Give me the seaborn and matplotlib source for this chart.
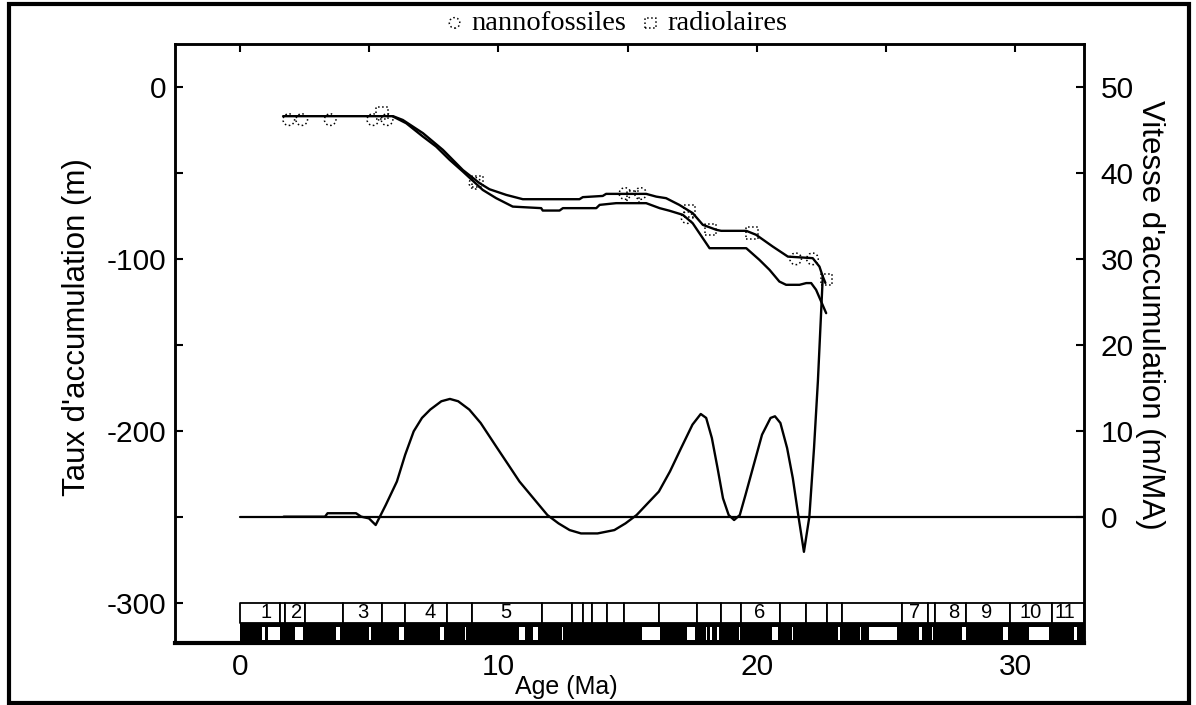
import matplotlib
matplotlib.use("Agg")
import matplotlib.pyplot as plt
import seaborn as sns
from matplotlib.patches import Rectangle
from matplotlib.ticker import MultipleLocator

# ---------------- data ----------------
# depth curve from nannofossil datums (upper curve)
age_a = [1.68, 5.93, 6.31, 7.09, 7.86, 8.63, 9.28, 9.66, 10.31, 10.95, 13.14, 13.27,
         14.04, 14.17, 15.72, 16.11, 16.49, 17.0, 17.52, 17.91, 18.43, 18.62, 19.59,
         19.97, 20.61, 21.2, 22.16, 22.42, 22.55, 22.65]
depth_a = [-17, -17, -19.2, -26.9, -36.6, -48.3, -56, -59.5, -62.8, -65.3, -65.3, -64.1,
           -63.4, -62.2, -62.2, -63.8, -64.7, -68.6, -73.4, -80.2, -83.1, -83.7, -83.7,
           -86, -92.8, -98.7, -99.6, -104.5, -110.3, -114]
# depth curve from radiolarian datums (lower curve)
age_b = [5.93, 6.44, 7.09, 7.6, 8.12, 8.63, 9.4, 9.92, 10.56, 11.66, 11.72, 12.37, 12.5,
         13.79, 13.92, 14.56, 15.72, 16.24, 16.62, 17.14, 17.52, 18.17, 19.59, 20.1,
         20.49, 20.87, 21.13, 21.65, 21.91, 22.1, 22.29, 22.68]
depth_b = [-17.2, -21.1, -28.9, -34.7, -42.4, -49.2, -59.9, -64.7, -69.6, -70.5, -71.9,
           -71.9, -70.5, -70.5, -68.6, -67.6, -67.6, -70.5, -72, -74.4, -79.3, -93.8,
           -93.8, -100.6, -106.4, -113.2, -115.1, -115.1, -114.1, -114.1, -118, -131.6]

# datum markers
nanno_age = [1.9, 2.4, 3.5, 5.15, 5.7, 9.1, 14.9, 15.5, 17.3, 21.5, 22.15]
nanno_depth = [-19, -19, -19, -19, -19, -56, -62, -62, -76, -100, -100]
radio_age = [5.5, 9.2, 15.2, 17.4, 18.2, 19.8, 22.7]
radio_depth = [-15, -55, -64, -72, -83, -85, -112]

# accumulation rate (m/MA)
rate_age = [1.7, 3.3, 3.4, 4.5, 4.7, 5.0, 5.26, 5.65, 6.08, 6.40, 6.73, 7.05, 7.37, 7.80,
            8.13, 8.45, 8.88, 9.32, 9.96, 10.39, 10.82, 11.36, 11.90, 12.33, 12.76, 13.20,
            13.84, 14.49, 14.92, 15.35, 15.78, 16.21, 16.64, 17.07, 17.51, 17.83, 18.04,
            18.26, 18.48, 18.69, 18.91, 19.12, 19.34, 19.56, 19.88, 20.20, 20.53, 20.70,
            20.91, 21.17, 21.39, 21.60, 21.82, 22.03, 22.21, 22.36, 22.55]
rate_val = [0, 0, 0.4, 0.4, 0, -0.2, -0.97, 1.36, 4.09, 7.2, 9.93, 11.49, 12.46, 13.43,
            13.7, 13.43, 12.46, 10.9, 7.98, 6.04, 4.09, 2.14, 0.19, -0.78, -1.56, -1.95,
            -1.95, -1.56, -0.78, 0.19, 1.56, 2.92, 5.26, 7.98, 10.71, 11.95, 11.49, 9.15,
            5.65, 2.14, 0.19, -0.39, 0.19, 2.53, 6.04, 9.54, 11.49, 11.68, 10.9, 7.98,
            4.48, 0.19, -4.09, 0.0, 7.98, 15.77, 28.0]

# stratigraphic strip: zone boundaries (upper row) and labels
zone_bounds = [0, 1.55, 1.74, 2.51, 3.98, 5.49, 6.38, 8.0, 9.0, 11.7, 12.87, 13.26, 13.64,
               14.22, 14.88, 16.2, 17.7, 18.6, 19.4, 20.9, 21.9, 22.7, 23.3, 25.6, 26.6,
               26.9, 28.1, 29.8, 31.4, 32.65]
zone_labels = ["1", "2", "3", "4", "5", "6", "7", "8", "9", "10", "11"]
zone_label_age = [1.04, 2.2, 4.75, 7.35, 10.3, 20.1, 26.1, 27.6, 28.9, 30.6, 31.9]
# magnetic polarity: white intervals in the black row
normal_start = [0.85, 1.08, 2.13, 3.71, 4.99, 6.18, 7.73, 8.7, 10.82, 11.33, 12.45, 15.54,
                17.28, 18.05, 18.2, 18.44, 19.29, 20.6, 21.34, 23.15, 23.97, 24.35, 26.28,
                26.79, 27.95, 29.5, 30.54, 32.28]
normal_end = [0.98, 1.55, 2.44, 3.87, 5.06, 6.34, 7.92, 8.77, 11.02, 11.52, 12.52, 16.24,
              17.59, 18.09, 18.28, 18.55, 19.36, 20.8, 21.38, 23.23, 24.04, 25.43, 26.4,
              26.83, 28.1, 29.73, 31.31, 32.39]

XMIN, XMAX = -2.5, 32.65
YMIN, YMAX = -323.5, 25

# ---------------- style ----------------
sns.set_theme(style="white")
plt.rcParams.update({
    "axes.edgecolor": "black", "axes.labelcolor": "black", "text.color": "black",
    "xtick.color": "black", "ytick.color": "black", "axes.unicode_minus": False,
})
plt.rcParams["font.family"] = ["Liberation Sans", "DejaVu Sans"]

fig = plt.figure(figsize=(11.96, 7.05), dpi=100)
ax = fig.add_axes([175 / 1196, 1 - 643 / 705, 909 / 1196, 599 / 705])
ax2 = ax.twinx()

# depth curves
sns.lineplot(x=age_a, y=depth_a, ax=ax, color="black", lw=1.7, sort=False, estimator=None)
sns.lineplot(x=age_b, y=depth_b, ax=ax, color="black", lw=1.7, sort=False, estimator=None)

# markers
sns.scatterplot(x=nanno_age, y=nanno_depth, ax=ax, marker="o", s=70, zorder=4)
c1 = ax.collections[-1]
sns.scatterplot(x=radio_age, y=radio_depth, ax=ax, marker="s", s=70, zorder=4)
c2 = ax.collections[-1]
for c in (c1, c2):
    c.set_facecolor("none")
    c.set_edgecolor("black")
    c.set_linewidth(1.1)
    c.set_linestyle(":")

# stratigraphic strip
upper = [(zone_bounds[i], zone_bounds[i + 1] - zone_bounds[i]) for i in range(len(zone_bounds) - 1)]
ax.broken_barh(upper, (-312, 12), facecolors="white", edgecolors="black", linewidth=1.3, zorder=5)
ax.broken_barh([(0, XMAX)], (YMIN, -312 - YMIN), facecolors="black", edgecolors="none", zorder=5)
ax.broken_barh([(s, e - s) for s, e in zip(normal_start, normal_end)], (YMIN + 1.5, -312 - YMIN - 3.5),
               facecolors="white", edgecolors="none", zorder=6)
for lab, xa in zip(zone_labels, zone_label_age):
    ax.text(xa, -305.8, lab, ha="center", va="center", fontsize=14.5, zorder=7)

# rate curve and zero line on right axis
sns.lineplot(x=[0, XMAX], y=[0, 0], ax=ax2, color="black", lw=1.6, sort=False, estimator=None)
sns.lineplot(x=rate_age, y=rate_val, ax=ax2, color="black", lw=1.7, sort=False, estimator=None)

# axes limits / ticks
ax.set_xlim(XMIN, XMAX)
ax.set_ylim(YMIN, YMAX)
ax2.set_ylim(YMIN / 5 + 50, YMAX / 5 + 50)
ax.set_xticks([0, 10, 20, 30])
ax.xaxis.set_minor_locator(MultipleLocator(5))
ax.set_yticks([0, -100, -200, -300])
ax.yaxis.set_minor_locator(MultipleLocator(50))
ax2.set_yticks([0, 10, 20, 30, 40, 50])

ax.tick_params(axis="x", which="both", bottom=False, top=True, direction="in", length=6,
               width=1.5, labelbottom=True, labeltop=False, labelsize=21.5, pad=7)
ax.tick_params(axis="y", which="both", left=True, right=False, direction="in", length=6,
               width=1.5, labelsize=21.5, pad=6)
ax2.tick_params(axis="y", which="both", left=False, right=True, direction="in", length=6,
                width=1.5, labelsize=21.5, pad=12)
for a in (ax, ax2):
    for sp in a.spines.values():
        sp.set_linewidth(1.8)
ax.spines["bottom"].set_linewidth(3)

ax.set_xlabel("Age (Ma)", fontsize=18)
ax.xaxis.set_label_coords(0.430, -0.0735)
ax.xaxis.label.set_va("center")
ax.set_ylabel("Taux d'accumulation (m)", fontsize=22.5)
ax.yaxis.set_label_coords(-0.108, 0.527)
ax.yaxis.label.set_va("center")
ax2.set_ylabel("Vitesse d'accumulation (m/MA)", fontsize=22.5, rotation=270)
ax2.yaxis.set_label_coords(1.0726, 0.548)
ax2.yaxis.label.set_va("center")
ax2.yaxis.label.set_ha("center")

leg = ax.legend(handles=[c1, c2], labels=["nannofossiles", "radiolaires"], loc="lower center",
                bbox_to_anchor=(0.483, 1.008), ncol=2, frameon=False, handletextpad=0.1,
                columnspacing=0.35, borderaxespad=0.0, borderpad=0.1, markerscale=0.9,
                handlelength=1.0, prop={"family": "Liberation Serif", "size": 20.5})

# outer frame
fig.add_artist(Rectangle((9 / 1196, 2 / 705), 1180 / 1196, 699 / 705, transform=fig.transFigure,
                         fill=False, edgecolor="black", linewidth=3))

fig.savefig("out.png", dpi=100)
